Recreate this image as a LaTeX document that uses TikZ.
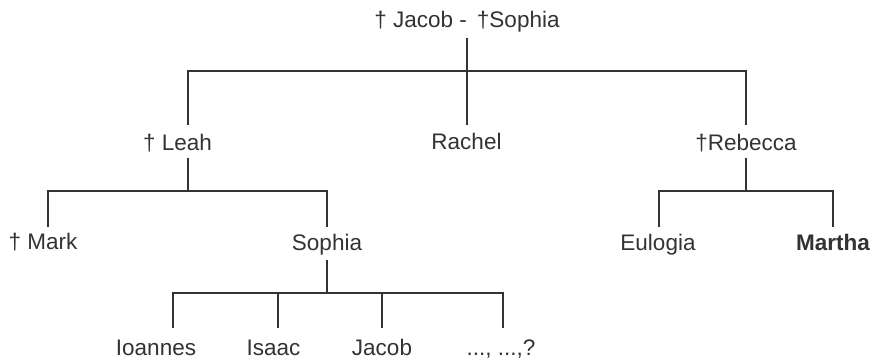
\documentclass[tikz,border=0pt]{standalone}
\usepackage{fontspec}
\setmainfont{Liberation Sans}
\definecolor{ink}{HTML}{333333}
\begin{document}
\begin{tikzpicture}[x=1pt,y=-1pt,
  lbl/.style={anchor=base,inner sep=0pt,text=ink,font=\fontsize{22.5}{27}\selectfont},
  link/.style={draw=ink,line width=1.8pt,line cap=butt,line join=miter}]
\useasboundingbox[fill=white] (0,0) rectangle (873,362);
% names
\node[lbl] (top) at (467,27) {† Jacob - \,†Sophia};
\node[lbl] (leah) at (177.5,150) {† Leah};
\node[lbl] (rachel) at (466.5,149) {Rachel};
\node[lbl] (rebecca) at (746,150) {†Rebecca};
\node[lbl] (mark) at (43,249) {† Mark};
\node[lbl] (sophia) at (327,250) {Sophia};
\node[lbl] (eulogia) at (658,250) {Eulogia};
\node[lbl,font=\fontsize{22.5}{27}\selectfont\bfseries] (martha) at (833,250) {Martha};
\node[lbl] (ioannes) at (156,355) {Ioannes};
\node[lbl] (isaac) at (273.5,355) {Isaac};
\node[lbl] (jacob) at (382,355) {Jacob};
\node[lbl] (dots) at (501,355) {..., ...,?};
% connector end points
\coordinate (topB) at (467,38);
\coordinate (topJ) at (467,71);
\coordinate (leahT) at (188,125);
\coordinate (rachelT) at (467,125);
\coordinate (rebeccaT) at (746,125);
\coordinate (leahB) at (188,158);
\coordinate (leahJ) at (188,191);
\coordinate (markT) at (48,227);
\coordinate (sophiaT) at (327,227);
\coordinate (rebeccaB) at (746,158);
\coordinate (rebeccaJ) at (746,191);
\coordinate (eulogiaT) at (659,227);
\coordinate (marthaT) at (833,227);
\coordinate (sophiaB) at (327,260);
\coordinate (sophiaJ) at (327,293);
\coordinate (ioannesT) at (173,328);
\coordinate (isaacT) at (278,328);
\coordinate (jacobT) at (382,328);
\coordinate (dotsT) at (503,328);
% connectors
\draw[link] (topB) -- (topJ);
\draw[link] (leahT) -- (leahT |- topJ) -- (rebeccaT |- topJ) -- (rebeccaT);
\draw[link] (topJ) -- (rachelT);
\draw[link] (leahB) -- (leahJ);
\draw[link] (markT) -- (markT |- leahJ) -- (sophiaT |- leahJ) -- (sophiaT);
\draw[link] (rebeccaB) -- (rebeccaJ);
\draw[link] (eulogiaT) -- (eulogiaT |- rebeccaJ) -- (marthaT |- rebeccaJ) -- (marthaT);
\draw[link] (sophiaB) -- (sophiaJ);
\draw[link] (ioannesT) -- (ioannesT |- sophiaJ) -- (dotsT |- sophiaJ) -- (dotsT);
\draw[link] (isaacT) -- (isaacT |- sophiaJ);
\draw[link] (jacobT) -- (jacobT |- sophiaJ);
\end{tikzpicture}
\end{document}
